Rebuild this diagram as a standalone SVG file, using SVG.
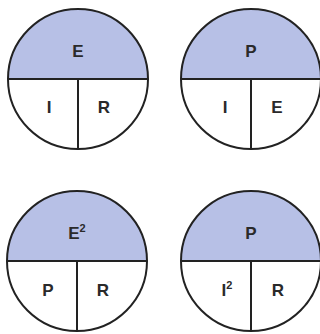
<svg xmlns="http://www.w3.org/2000/svg" width="320" height="334" viewBox="0 0 320 334">
<style>
.top{fill:#b7c0e6}
.ring{fill:none;stroke:#222;stroke-width:2}
.div{stroke:#222;stroke-width:2}
.t{font-family:"Liberation Sans",Arial,sans-serif;font-weight:bold;font-size:17px;fill:#2a2a2a;text-anchor:middle}
.s{font-size:11px}
</style>
<rect width="320" height="334" fill="#fff"/>
<g id="circle-E-IR" transform="translate(78,79)">
<path class="top" d="M-70,0 A70,70 0 0 1 70,0 Z"/>
<circle class="ring" r="70"/>
<line class="div" x1="-70" y1="0" x2="70" y2="0"/>
<line class="div" x1="0" y1="0" x2="0" y2="70"/>
<text class="t" x="0" y="-22">E</text>
<text class="t" x="-29" y="34">I</text>
<text class="t" x="26" y="34">R</text>
</g>
<g id="circle-P-IE" transform="translate(251,79)">
<path class="top" d="M-70,0 A70,70 0 0 1 70,0 Z"/>
<circle class="ring" r="70"/>
<line class="div" x1="-70" y1="0" x2="70" y2="0"/>
<line class="div" x1="0" y1="0" x2="0" y2="70"/>
<text class="t" x="0" y="-22">P</text>
<text class="t" x="-26" y="34">I</text>
<text class="t" x="26" y="34">E</text>
</g>
<g id="circle-E2-PR" transform="translate(77,261)">
<path class="top" d="M-70,0 A70,70 0 0 1 70,0 Z"/>
<circle class="ring" r="70"/>
<line class="div" x1="-70" y1="0" x2="70" y2="0"/>
<line class="div" x1="0" y1="0" x2="0" y2="70"/>
<text class="t" x="0" y="-22">E<tspan class="s" dy="-7">2</tspan></text>
<text class="t" x="-29" y="35">P</text>
<text class="t" x="26" y="35">R</text>
</g>
<g id="circle-P-I2R" transform="translate(251,261)">
<path class="top" d="M-70,0 A70,70 0 0 1 70,0 Z"/>
<circle class="ring" r="70"/>
<line class="div" x1="-70" y1="0" x2="70" y2="0"/>
<line class="div" x1="0" y1="0" x2="0" y2="70"/>
<text class="t" x="0" y="-22">P</text>
<text class="t" x="-24" y="35">I<tspan class="s" dy="-7">2</tspan></text>
<text class="t" x="27" y="35">R</text>
</g>
</svg>
